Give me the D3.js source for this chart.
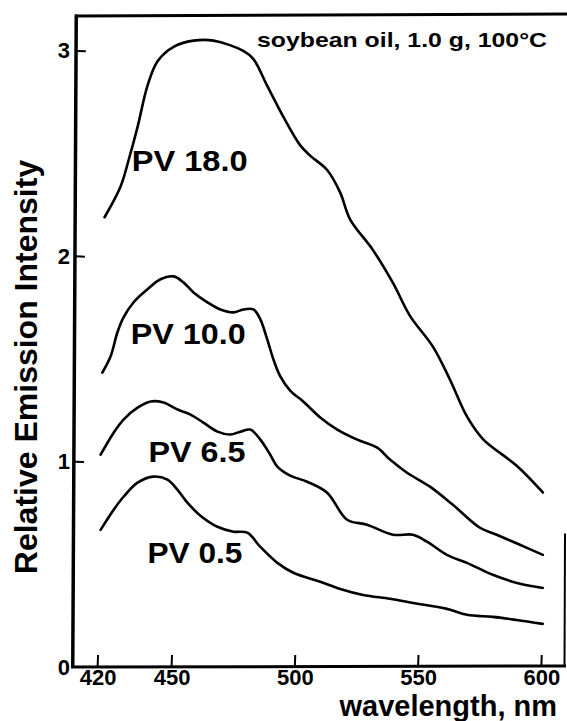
<!DOCTYPE html>
<html>
  <head>
    <meta charset="utf-8" />
    <script src="https://d3js.org/d3.v7.min.js"></script>
    <style>
      body { margin: 0; background: #fff; }
      text { font-family: 'Liberation Sans', Arial, sans-serif; font-weight: bold; fill: #000; }
    </style>
    <title>Relative Emission Intensity</title>
  </head>

  <body>
    <div id="chart"></div>
  </body>

  <script>
    // [wavelength nm, relative intensity]
    var pv18 = [
      [422.8, 2.19], [429.3, 2.34], [432.6, 2.47], [436.2, 2.63], [440.2, 2.83],
      [444.3, 2.95], [450.8, 3.02], [458.9, 3.05], [467, 3.05], [479.1, 3.0],
      [483.2, 2.96], [488.8, 2.83], [495.3, 2.68], [502.2, 2.54], [506.2, 2.49],
      [513.1, 2.42], [518.4, 2.31], [522.4, 2.18], [531.7, 2.03], [539.8, 1.87],
      [546.7, 1.71], [556.0, 1.56], [562.9, 1.4], [569.8, 1.22], [576.3, 1.11],
      [590.0, 0.98], [600.6, 0.85]
    ];
    var pv10 = [
      [421.9, 1.433], [425.3, 1.514], [428.0, 1.629], [430.5, 1.702], [434.6, 1.776],
      [440.2, 1.839], [445.5, 1.888], [450.8, 1.902], [454.8, 1.873], [458.9, 1.824],
      [464.5, 1.776], [469.8, 1.741], [475.1, 1.727], [479.1, 1.741], [483.2, 1.741],
      [486.0, 1.693], [488.8, 1.595], [491.3, 1.498], [494.1, 1.415], [498.1, 1.346],
      [503.4, 1.293], [510.3, 1.215], [517.2, 1.156], [525.3, 1.107], [533.4, 1.068],
      [538.6, 1.01], [545.5, 0.946], [554.8, 0.878], [564.1, 0.79], [575.1, 0.678],
      [581.9, 0.644], [591.3, 0.595], [600.6, 0.546]
    ];
    var pv65 = [
      [421.2, 1.034], [426.5, 1.141], [430.5, 1.205], [436.2, 1.263], [441.5, 1.293],
      [446.7, 1.288], [452.4, 1.254], [457.7, 1.229], [462.9, 1.19], [468.6, 1.146],
      [473.8, 1.132], [477.9, 1.146], [481.9, 1.156], [486.0, 1.107], [490.0, 1.034],
      [492.9, 0.976], [498.1, 0.932], [505.0, 0.902], [513.1, 0.849], [521.2, 0.717],
      [529.3, 0.693], [539.8, 0.644], [547.9, 0.644], [553.6, 0.61], [561.7, 0.546],
      [569.8, 0.507], [580.3, 0.449], [591.3, 0.405], [600.6, 0.385]
    ];
    var pv05 = [
      [421.2, 0.668], [426.5, 0.766], [430.5, 0.829], [436.2, 0.898], [442.7, 0.927],
      [448.3, 0.912], [452.4, 0.863], [456.4, 0.8], [461.7, 0.737], [468.6, 0.683],
      [475.1, 0.659], [480.7, 0.654], [486.0, 0.585], [492.9, 0.507], [499.4, 0.459],
      [510.3, 0.415], [518.4, 0.38], [527.7, 0.351], [538.6, 0.332], [547.9, 0.312],
      [561.7, 0.283], [569.8, 0.254], [580.3, 0.244], [590.0, 0.229], [600.6, 0.21]
    ];

    var seriesNames = ['PV 18.0', 'PV 10.0', 'PV 6.5', 'PV 0.5'];
    var xTicks = [420, 450, 500, 550, 600];
    var yTicks = [0, 1, 2, 3];

    var width = 567,
      height = 721;

    var svg = d3
      .select('#chart')
      .append('svg')
      .attr('width', width)
      .attr('height', height);

    var x = d3.scaleLinear().domain([410, 610]).range([73, 566]);
    var y = d3.scaleLinear().domain([0, 3.17]).range([667, 16]);

    // tick labels from d3 axes
    var xAxis = svg
      .append('g')
      .attr('transform', 'translate(0,' + y(0) + ')')
      .call(d3.axisBottom(x).tickValues(xTicks).tickSize(0).tickPadding(4));
    var yAxis = svg
      .append('g')
      .attr('transform', 'translate(' + x(410) + ',0)')
      .call(
        d3.axisLeft(y).tickValues(yTicks).tickFormat(d3.format('d')).tickSize(0).tickPadding(4)
      );

    [xAxis, yAxis].forEach(function (a) {
      a.select('.domain').remove();
      a.selectAll('.tick line').remove();
      a.selectAll('.tick text')
        .attr('fill', '#000')
        .style('font-size', '22px')
        .style('font-family', "'Liberation Sans', Arial, sans-serif")
        .style('font-weight', 'bold');
    });
    xAxis.selectAll('.tick text').attr('dy', '0.64em');
    yAxis.selectAll('.tick text').attr('x', -3);

    var x0 = x(410), x1 = x(610), y0 = y(0), y1 = y(3.17);

    // axes drawn as thin filled polygons (L shape), slightly skewed like the scan
    var axisShape = d3.path();
    axisShape.moveTo(x0 + 1.5, y1 - 1.5);
    axisShape.lineTo(x0 + 5, y1 - 1.5);
    axisShape.lineTo(x0 + 1.5, y0 - 1.5);
    axisShape.lineTo(x1, y0 - 2.5);
    axisShape.lineTo(x1, y0 + 0.5);
    axisShape.lineTo(x0 - 2, y0 + 1.5);
    axisShape.closePath();
    svg.append('path')
      .attr('d', axisShape.toString())
      .attr('fill', 'black');

    // inward ticks as small filled shapes
    var tickShape = d3.path();
    xTicks.forEach(function (t) {
      tickShape.moveTo(x(t) - 1, y0 - 1);
      tickShape.lineTo(x(t) - 0.6, y0 - 12);
      tickShape.lineTo(x(t) + 1.4, y0 - 12);
      tickShape.lineTo(x(t) + 1, y0 - 1);
      tickShape.closePath();
    });
    yTicks.slice(1).forEach(function (t) {
      var xs = x0 + 1 + 3 * (t / 3.17);
      tickShape.moveTo(xs, y(t) - 1);
      tickShape.lineTo(xs + 9, y(t) - 0.6);
      tickShape.lineTo(xs + 9, y(t) + 1.4);
      tickShape.lineTo(xs, y(t) + 1);
      tickShape.closePath();
    });
    svg.append('path')
      .attr('d', tickShape.toString())
      .attr('fill', 'black');

    // top edge and the short bit of right edge
    svg.append('line')
      .attr('x1', x0 + 2).attr('x2', width)
      .attr('y1', y1).attr('y2', y1 - 2)
      .attr('stroke', '#000').attr('stroke-width', 3);
    svg.append('line')
      .attr('x1', x1 - 1).attr('x2', x1 - 1.5)
      .attr('y1', y(0.65)).attr('y2', y0)
      .attr('stroke', '#000').attr('stroke-width', 2);

    var line = d3
      .line()
      .x((d) => x(d[0]))
      .y((d) => y(d[1]))
      .curve(d3.curveCatmullRom.alpha(0.5));

    svg
      .append('g')
      .selectAll('path')
      .data([pv18, pv10, pv65, pv05])
      .join('path')
      .attr('d', line)
      .attr('fill', 'none')
      .attr('stroke', '#000')
      .attr('stroke-width', 2.6)
      .attr('stroke-linejoin', 'round')
      .attr('stroke-linecap', 'round');

    // curve labels: [wavelength, intensity] of left baseline, width in px
    var labelPos = [
      [433.8, 2.415, 116],
      [433.4, 1.571, 115],
      [440.6, 1.0, 97],
      [440.2, 0.507, 95]
    ];
    svg
      .append('g')
      .selectAll('text')
      .data(seriesNames)
      .join('text')
      .attr('x', (d, i) => x(labelPos[i][0]))
      .attr('y', (d, i) => y(labelPos[i][1]))
      .attr('textLength', (d, i) => labelPos[i][2])
      .attr('lengthAdjust', 'spacingAndGlyphs')
      .style('font-size', '30px')
      .text((d) => d);

    svg.append('text')
      .attr('x', 257)
      .attr('y', 47)
      .attr('textLength', 290)
      .attr('lengthAdjust', 'spacingAndGlyphs')
      .style('font-size', '21px')
      .text('soybean oil, 1.0 g, 100°C');

    svg.append('text')
      .attr('x', 557)
      .attr('y', 716)
      .attr('text-anchor', 'end')
      .style('font-size', '29px')
      .text('wavelength, nm');

    svg.append('text')
      .attr('transform', 'translate(37,367) rotate(-90)')
      .attr('text-anchor', 'middle')
      .style('font-size', '32px')
      .text('Relative Emission Intensity');
  </script>
</html>
